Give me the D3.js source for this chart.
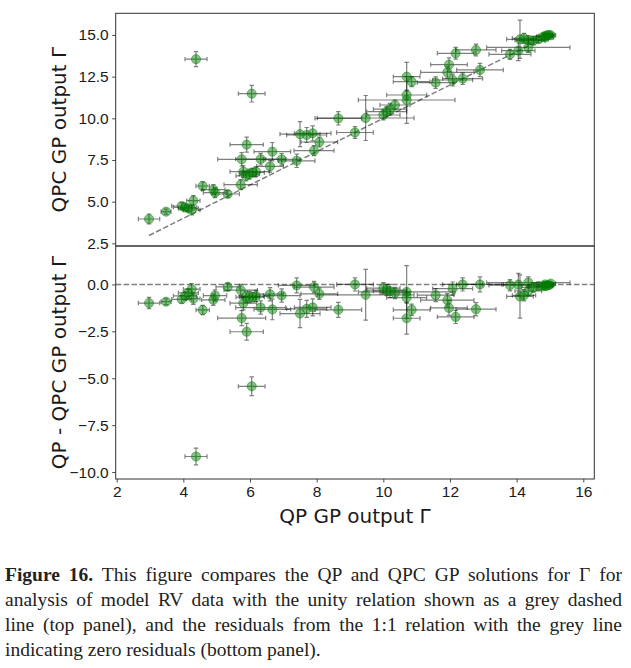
<!DOCTYPE html>
<html lang="en">
    <head>
        <meta http-equiv="content-type" content="text/html;charset=utf-8"/>
        <title>Figure 16 - QP vs QPC GP Gamma</title>
        <script src="https://cdn.jsdelivr.net/npm/d3@7"></script>
        <style>
            body { margin: 0; background: #fff; }
            #figure_container { position: relative; width: 631px; height: 668px; }
            .caption {
                position: absolute; left: 5px; top: 562px; width: 617px;
                font-family: "Liberation Serif", "Times New Roman", serif;
                font-size: 19.5px; line-height: 25px; color: #222;
            }
            .caption div { text-align: justify; text-align-last: justify; white-space: nowrap; }
            .caption div.last { text-align-last: left; }
        </style>
    </head>

    <body>
        <div id="figure_container">
            <div class="caption">
                <div><b>Figure 16.</b> This figure compares the QP and QPC GP solutions for Γ for</div>
                <div>analysis of model RV data with the unity relation shown as a grey dashed</div>
                <div>line (top panel), and the residuals from the 1:1 relation with the grey line</div>
                <div class="last">indicating zero residuals (bottom panel).</div>
            </div>
        </div>
        <script>
            // QP GP output Gamma (x) and QPC GP output Gamma (top panel y)
            var qpGamma = [2.97, 3.48, 3.95, 4.05, 4.15, 4.25, 4.30, 4.38, 4.58, 4.90,
                           4.95, 5.33, 5.72, 5.75, 5.80, 5.90, 5.88, 5.98, 6.08, 6.05,
                           6.18, 6.32, 6.60, 6.67, 6.95, 7.40, 7.50, 7.70, 7.88, 7.92,
                           8.08, 8.65, 9.15, 9.47, 10.00, 10.10, 10.20, 10.35, 10.70, 10.70,
                           10.70, 10.85, 11.57, 11.92, 11.97, 12.08, 12.17, 12.38, 12.78, 12.90,
                           13.80, 14.05, 14.35, 14.10, 14.22, 14.35, 14.50, 14.65, 14.80, 14.87,
                           14.92, 14.97, 15.02, 14.85];
            var qpcGamma = [3.96, 4.40, 4.74, 4.66, 4.60, 4.50, 5.06, 13.55, 5.94, 5.72,
                            5.54, 5.46, 6.02, 7.54, 6.80, 8.42, 6.55, 6.65, 6.75, 11.48,
                            6.80, 7.55, 7.12, 8.00, 7.54, 7.45, 9.05, 9.00, 9.10, 8.06,
                            8.58, 10.00, 9.15, 10.02, 10.20, 10.40, 10.55, 10.80, 12.50, 11.40,
                            11.10, 12.20, 12.14, 12.76, 13.22, 12.30, 13.90, 12.38, 14.10, 12.90,
                            13.84, 14.06, 14.25, 14.74, 14.80, 14.70, 14.66, 14.74, 14.90, 14.95,
                            14.98, 15.00, 14.98, 14.85];
            // 1-sigma uncertainties
            var qpErr = [0.32, 0.15, 0.30, 0.35, 0.30, 0.25, 0.20, 0.33, 0.20, 0.35,
                         0.35, 0.35, 0.50, 0.72, 0.40, 0.50, 0.30, 0.30, 0.35, 0.40,
                         0.40, 0.75, 0.40, 0.55, 0.55, 0.55, 0.60, 0.60, 0.55, 0.60,
                         0.55, 0.70, 0.55, 1.45, 0.50, 0.60, 0.50, 0.45, 0.40, 0.60,
                         1.45, 0.55, 0.55, 0.80, 0.55, 0.60, 0.55, 0.60, 0.60, 0.70,
                         0.63, 0.50, 1.25, 0.40, 0.35, 0.40, 0.35, 0.30, 0.20, 0.20,
                         0.15, 0.15, 0.15, 0.25];
            var qpcErr = [0.30, 0.15, 0.20, 0.20, 0.20, 0.30, 0.30, 0.45, 0.25, 0.30,
                          0.30, 0.20, 0.30, 0.40, 0.35, 0.45, 0.30, 0.30, 0.25, 0.50,
                          0.30, 0.35, 0.35, 0.55, 0.35, 0.40, 0.75, 0.45, 0.45, 0.30,
                          0.30, 0.40, 0.35, 1.35, 0.30, 0.30, 0.35, 0.30, 0.85, 0.30,
                          1.40, 0.30, 0.35, 0.35, 0.40, 0.35, 0.35, 0.35, 0.35, 0.40,
                          0.30, 0.60, 0.30, 1.15, 0.30, 0.25, 0.25, 0.20, 0.15, 0.10,
                          0.10, 0.10, 0.10, 0.15];

            var xTicks = [2, 4, 6, 8, 10, 12, 14, 16];
            var topTicks = [2.5, 5.0, 7.5, 10.0, 12.5, 15.0];
            var bottomTicks = [-10.0, -7.5, -5.0, -2.5, 0.0];

            var width = 631;
            var height = 668;
            var left = 115.7, right = 594.3;
            var topY0 = 13.3, split = 246, bottomY1 = 479;

            var points = qpGamma.map(function(d, i) {
                return { qp: d, qpc: qpcGamma[i], ex: qpErr[i], ey: qpcErr[i], res: d - qpcGamma[i] };
            });

            var svg = d3.select("#figure_container").insert("svg", ".caption")
                .attr("width", width)
                .attr("height", height)
                .style("position", "absolute")
                .style("left", 0).style("top", 0)
                .style("font-family", "DejaVu Sans, sans-serif");

            var x = d3.scaleLinear().domain([1.97, 16.33]).range([left, right]);
            var yTop = d3.scaleLinear().domain([2.34, 16.3]).range([split, topY0]);
            var yBot = d3.scaleLinear().domain([-10.37, 2.05]).range([bottomY1, split]);

            // 绘制一个面板: 误差棒 + 点
            function drawPanel(y, yKey, refLine) {
                var g = svg.append("g");

                refLine(g, y);

                var bars = g.append("g")
                    .attr("stroke", "black")
                    .attr("stroke-opacity", 0.5)
                    .attr("stroke-width", 1.2)
                    .attr("fill", "none");
                var cap = 2.2;
                points.forEach(function(p) {
                    var cx = x(p.qp), cy = y(p[yKey]);
                    var x0 = x(p.qp - p.ex), x1 = x(p.qp + p.ex);
                    var y0 = y(p[yKey] - p.ey), y1 = y(p[yKey] + p.ey);
                    bars.append("path").attr("d",
                        "M" + x0 + "," + cy + "H" + x1 +
                        "M" + x0 + "," + (cy - cap) + "V" + (cy + cap) +
                        "M" + x1 + "," + (cy - cap) + "V" + (cy + cap) +
                        "M" + cx + "," + y0 + "V" + y1 +
                        "M" + (cx - cap) + "," + y0 + "H" + (cx + cap) +
                        "M" + (cx - cap) + "," + y1 + "H" + (cx + cap));
                });

                g.selectAll("circle")
                    .data(points)
                    .join("circle")
                    .attr("cx", d => x(d.qp))
                    .attr("cy", d => y(d[yKey]))
                    .attr("r", 4.6)
                    .attr("fill", "green")
                    .attr("fill-opacity", 0.48)
                    .attr("stroke", "green")
                    .attr("stroke-opacity", 0.45)
                    .attr("stroke-width", 1);
                return g;
            }

            // top panel: unity relation
            drawPanel(yTop, "qpc", function(g, y) {
                var lo = d3.min(qpGamma), hi = d3.max(qpGamma);
                g.append("line")
                    .attr("x1", x(lo)).attr("y1", y(lo))
                    .attr("x2", x(hi)).attr("y2", y(hi))
                    .attr("stroke", "grey")
                    .attr("stroke-width", 1.5)
                    .attr("stroke-dasharray", "5.5,2.4");
            });

            // bottom panel: residuals, zero line
            drawPanel(yBot, "res", function(g, y) {
                g.append("line")
                    .attr("x1", left).attr("y1", y(0))
                    .attr("x2", right).attr("y2", y(0))
                    .attr("stroke", "grey")
                    .attr("stroke-width", 1.5)
                    .attr("stroke-dasharray", "5.5,2.4");
            });

            // 坐标轴
            function styleAxis(g) {
                g.select(".domain").remove();
                g.selectAll(".tick line").attr("stroke", "#333").attr("stroke-width", 0.9);
                g.selectAll(".tick text").attr("fill", "#1a1a1a").style("font-size", "15.5px");
            }

            svg.append("g")
                .attr("transform", "translate(" + left + ",0)")
                .call(d3.axisLeft(yTop).tickValues(topTicks).tickFormat(d3.format(".1f"))
                    .tickSizeInner(3.5).tickSizeOuter(0).tickPadding(3.5))
                .call(styleAxis);

            svg.append("g")
                .attr("transform", "translate(" + left + ",0)")
                .call(d3.axisLeft(yBot).tickValues(bottomTicks).tickFormat(d3.format(".1f"))
                    .tickSizeInner(3.5).tickSizeOuter(0).tickPadding(3.5))
                .call(styleAxis);

            svg.append("g")
                .attr("transform", "translate(0," + bottomY1 + ")")
                .call(d3.axisBottom(x).tickValues(xTicks).tickFormat(d3.format("d"))
                    .tickSizeInner(3.5).tickSizeOuter(0).tickPadding(3.5))
                .call(styleAxis);

            // 面板边框
            [[topY0, split], [split, bottomY1]].forEach(function(r) {
                svg.append("rect")
                    .attr("x", left).attr("y", r[0])
                    .attr("width", right - left).attr("height", r[1] - r[0])
                    .attr("fill", "none")
                    .attr("stroke", "#333")
                    .attr("stroke-width", 1);
            });

            // axis labels
            svg.append("text")
                .attr("x", (left + right) / 2).attr("y", 517)
                .attr("text-anchor", "middle").attr("dominant-baseline", "middle")
                .style("font-size", "20px").attr("fill", "#1a1a1a")
                .text("QP GP output Γ");

            svg.append("text")
                .attr("transform", "translate(60," + (topY0 + split) / 2 + ") rotate(-90)")
                .attr("text-anchor", "middle").attr("dominant-baseline", "middle")
                .style("font-size", "20px").attr("fill", "#1a1a1a")
                .text("QPC GP output Γ");

            svg.append("text")
                .attr("transform", "translate(60," + (split + bottomY1) / 2 + ") rotate(-90)")
                .attr("text-anchor", "middle").attr("dominant-baseline", "middle")
                .style("font-size", "20px").attr("fill", "#1a1a1a")
                .text("QP - QPC GP output Γ");
        </script>
    </body>
</html>
